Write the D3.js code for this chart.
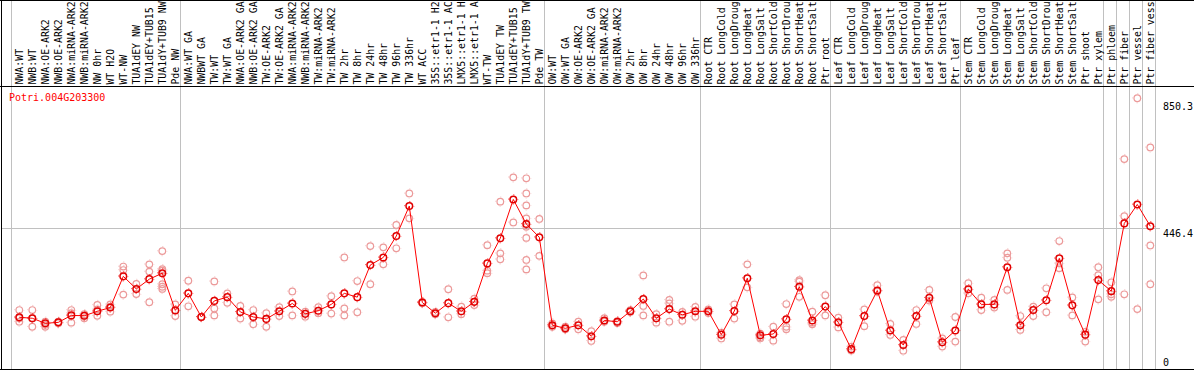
<!DOCTYPE html>
<html>
<head>
<meta charset="utf-8">
<script src="https://cdn.jsdelivr.net/npm/d3@7"></script>
<style>
    body { margin: 0; background: #fff; }
    svg text { font-family: "DejaVu Sans Mono", monospace; font-size: 10px; }
</style>
</head>
<body>
<div id="chart"></div>
<script>
// Gene shown in the plot
const geneName = "Potri.004G203300";

// Sample (column) labels, left to right, as far as they fit in the header
const sampleLabels = [
    "NWA:WT", "NWB:WT", "NWA:OE-ARK2", "NWB:OE-ARK2", "NWA:miRNA-ARK2", "NWB:miRNA-ARK2",
    "NW 0hr", "WT H2O", "WT-NW", "TUA1dEY NW", "TUA1dEY+TUB15", "TUA1dY+TUB9 NW", "Pde NW",
    "NWA:WT GA", "NWBWT GA", "TW:WT", "TW:WT GA", "NWA:OE-ARK2 GA", "NWB:OE-ARK2 GA",
    "TW:OE-ARK2", "TW:OE-ARK2 GA", "NWA:miRNA-ARK2", "NWB:miRNA-ARK2", "TW:miRNA-ARK2", "TW:miRNA-ARK2",
    "TW 2hr", "TW 8hr", "TW 24hr", "TW 48hr", "TW 96hr", "TW 336hr", "WT ACC",
    "35S::etr1-1 H2", "35S::etr1-1 AC", "LMX5::etr1-1 H", "LMX5::etr1-1 A",
    "WT-TW", "TUA1dEY TW", "TUA1dEY+TUB15", "TUA1dY+TUB9 TW", "Pde TW",
    "OW:WT", "OW:WT GA", "OW:OE-ARK2", "OW:OE-ARK2 GA", "OW:miRNA-ARK2", "OW:miRNA-ARK2",
    "OW 2hr", "OW 8hr", "OW 24hr", "OW 48hr", "OW 96hr", "OW 336hr",
    "Root CTR", "Root LongCold", "Root LongDroug", "Root LongHeat", "Root LongSalt",
    "Root ShortCold", "Root ShortDrou", "Root ShortHeat", "Root ShortSalt", "Ptr root",
    "Leaf CTR", "Leaf LongCold", "Leaf LongDroug", "Leaf LongHeat", "Leaf LongSalt",
    "Leaf ShortCold", "Leaf ShortDrou", "Leaf ShortHeat", "Leaf ShortSalt", "Ptr leaf",
    "Stem CTR", "Stem LongCold", "Stem LongDroug", "Stem LongHeat", "Stem LongSalt",
    "Stem ShortCold", "Stem ShortDrou", "Stem ShortHeat", "Stem ShortSalt", "Ptr shoot",
    "Ptr xylem", "Ptr phloem", "Ptr fiber", "Ptr vessel", "Ptr fiber vess"
];

// Mean expression per sample
const meanValues = [
    164, 161, 145, 148, 170, 169, 183, 195, 294, 254, 285, 304, 186,
    240, 165, 216, 228, 181, 165, 159, 183, 208, 175, 185, 205, 240, 228, 330, 354, 422,
    517, 211, 177, 209, 183, 213, 335, 415, 538, 460, 418,
    139, 129, 139, 104, 154, 150, 183, 222, 161, 190, 172, 183,
    183, 109, 184, 288, 107, 111, 158, 261, 154, 198,
    148, 63, 168, 249, 122, 76, 168, 226, 85, 122,
    253, 205, 205, 323, 139, 187, 218, 351, 202, 109, 282,
    247, 462, 522, 453
];

// Individual replicate values per sample
const replicateValues = [
    [187, 161, 150], [187, 161, 134], [150, 140, 134], [150, 145], [187, 177, 147],
    [174, 169, 161], [203, 189, 169], [205, 198, 182], [325, 314, 236], [270, 238],
    [332, 309, 212], [374, 317, 312, 269, 261, 254], [205, 168],
    [280, 199], [165, 165], [278, 192, 170], [240, 210], [200, 160], [187, 142],
    [177, 134], [196, 168], [246, 170], [182, 166], [196, 177], [231, 176],
    [354, 192, 170], [279, 180], [390, 269], [386, 332], [457, 383],
    [557, 478], [213, 209], [181, 174], [253, 164], [198, 174], [223, 213, 203],
    [393, 312, 304], [531, 367, 348], [608, 465],
    [605, 557, 519, 478, 451, 416, 346, 316], [476, 359],
    [145, 134], [134, 126], [150, 126], [120, 89], [161, 150], [152, 146],
    [187, 181], [297, 200, 170], [174, 147], [219, 208, 150], [181, 153], [197, 166],
    [189, 178], [115, 97], [205, 160], [332, 259], [112, 101, 97], [134, 90],
    [206, 134, 126], [282, 277, 229], [182, 147, 142], [234, 170],
    [163, 132], [71, 59], [189, 136], [266, 246], [143, 108], [92, 58],
    [187, 143], [251, 217], [97, 71], [165, 87],
    [272, 240], [226, 187], [219, 195], [367, 353, 251], [168, 124], [198, 168],
    [256, 180], [406, 335, 320], [227, 170], [118, 87], [323, 298, 221],
    [275, 237, 229], [666, 485, 237], [859, 190], [703, 392, 269]
];

// Column indexes where a group separator is drawn
const groupBreaks = [0, 13, 41, 53, 63, 73, 84, 85, 86, 87, 88];

// Right-hand axis labels
const axisValues = [850.3, 446.4, 0];

const width = 1194;
const height = 370;
const headerBottom = 86;
const plotBottom = 369;

const svg = d3.select("#chart").append("svg")
    .attr("width", width)
    .attr("height", height);

// column scale: one 13px column per sample
const colScale = d3.scaleLinear()
    .domain([0, sampleLabels.length])
    .range([11, 11 + 13 * sampleLabels.length]);
const pointX = i => colScale(i) + 8.3;

const yScale = d3.scaleLinear()
    .domain([0, 850.3])
    .range([plotBottom, 101]);

// vertical group separators (run through header too)
svg.selectAll(".vgrid")
    .data(groupBreaks)
    .enter()
    .append("line")
    .attr("class", "vgrid")
    .attr("x1", d => colScale(d) + 0.5)
    .attr("x2", d => colScale(d) + 0.5)
    .attr("y1", 0)
    .attr("y2", plotBottom)
    .style("stroke", "#c0c0c0")
    .style("stroke-width", 1);

// horizontal reference line at 446.4
svg.append("line")
    .attr("x1", 1)
    .attr("x2", 1160)
    .attr("y1", Math.round(yScale(446.4)) + 0.5)
    .attr("y2", Math.round(yScale(446.4)) + 0.5)
    .style("stroke", "#c0c0c0");

// frame
const frame = [
    [0, 0.5, width, 0.5],
    [0, headerBottom + 0.5, width, headerBottom + 0.5],
    [0, plotBottom + 0.5, width, plotBottom + 0.5],
    [1.5, 0, 1.5, height]
];
svg.selectAll(".frame")
    .data(frame)
    .enter()
    .append("line")
    .attr("x1", d => d[0]).attr("y1", d => d[1])
    .attr("x2", d => d[2]).attr("y2", d => d[3])
    .style("stroke", "#000")
    .style("stroke-width", 1);

// header labels, rotated
svg.append("g")
    .selectAll("text")
    .data(sampleLabels)
    .enter()
    .append("text")
    .attr("transform", (d, i) => "translate(" + (pointX(i) + 3.6) + "," + 84.6 + ") rotate(-90)")
    .style("fill", "#000")
    .style("font-size", "9.9px")
    .text(d => d);

// gene title
svg.append("text")
    .attr("x", 9)
    .attr("y", 101)
    .style("fill", "#ff0000")
    .text(geneName);

// right axis labels
svg.selectAll(".ylab")
    .data(axisValues)
    .enter()
    .append("text")
    .attr("class", "ylab")
    .attr("x", 1163)
    .attr("y", d => Math.min(yScale(d) + 8.5, 366))
    .style("fill", "#000")
    .text(d => d);

// replicate points
const reps = [];
replicateValues.forEach((vals, i) => vals.forEach(v => reps.push({ i: i, v: v })));

function tickRing(sel, color) {
    // small marks around each circle, like the original glyph
    const r = 4.6;
    const c = 2 * Math.PI * r;
    sel.append("circle")
        .attr("cx", d => pointX(d.i))
        .attr("cy", d => yScale(d.v))
        .attr("r", r)
        .style("fill", "none")
        .style("stroke", color)
        .style("stroke-width", 1)
        .style("stroke-dasharray", "1 " + (c / 4 - 1))
        .style("stroke-dashoffset", 0.5);
}

const repG = svg.selectAll(".rep")
    .data(reps)
    .enter()
    .append("g")
    .attr("class", "rep");
repG.append("circle")
    .attr("cx", d => pointX(d.i))
    .attr("cy", d => yScale(d.v))
    .attr("r", 3.3)
    .style("fill", "none")
    .style("stroke", "#ec9a9a")
    .style("stroke-width", 1.2);
tickRing(repG, "#f2b8b8");

// mean line
const line = d3.line()
    .x((d, i) => pointX(i))
    .y(d => yScale(d));

svg.append("path")
    .attr("d", line(meanValues))
    .style("fill", "none")
    .style("stroke", "#ff0000")
    .style("stroke-width", 1);

// mean points
const meanG = svg.selectAll(".mean")
    .data(meanValues.map((v, i) => ({ i: i, v: v })))
    .enter()
    .append("g")
    .attr("class", "mean");
meanG.append("circle")
    .attr("cx", d => pointX(d.i))
    .attr("cy", d => yScale(d.v))
    .attr("r", 3.3)
    .style("fill", "none")
    .style("stroke", "#e00000")
    .style("stroke-width", 1.5);
tickRing(meanG, "#ff0000");
</script>
</body>
</html>
